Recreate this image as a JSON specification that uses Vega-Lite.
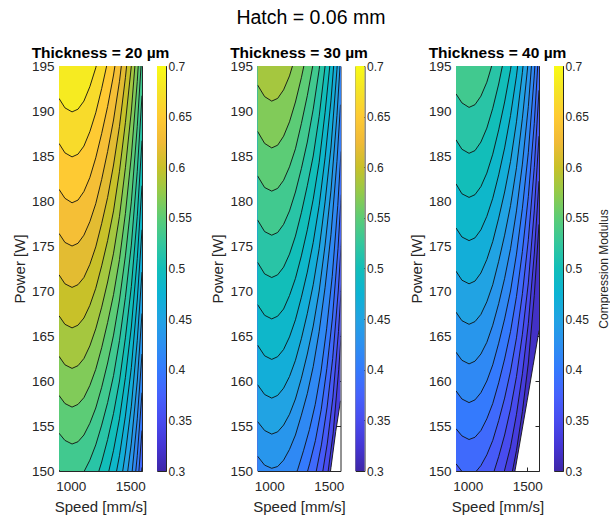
{
  "$schema": "https://vega.github.io/schema/vega-lite/v6.json",
  "padding": {"left": 11, "top": 8, "right": 0, "bottom": 0},
  "title": {"text": "Hatch = 0.06 mm", "fontSize": 19.5, "fontWeight": "normal", "color": "#000000", "anchor": "middle", "offset": 16.5},
  "config": {
    "font": "Liberation Sans",
    "view": {"stroke": "#262626", "strokeWidth": 1},
    "axis": {"grid": false, "domain": false, "zindex": 1, "labelFontSize": 13.5, "titleFontSize": 15, "labelColor": "#262626", "titleColor": "#262626", "titleFontWeight": "normal", "tickColor": "#262626", "tickSize": -4, "labelPadding": 6, "labelFlush": false},
    "axisX": {"labelPadding": 12, "titlePadding": 7},
    "axisY": {"labelPadding": 9},
    "title": {"font": "Liberation Sans"}
  },
  "datasets": {
    "t20": [
      {"c":0.3667,"v":900,"p":109.0},{"c":0.3667,"v":1600,"p":146.3},
      {"c":0.3833,"v":900,"p":113.4},{"c":0.3833,"v":1510,"p":136.8},{"c":0.3833,"v":1560,"p":143.5},{"c":0.3833,"v":1600,"p":150.4},
      {"c":0.4,"v":900,"p":117.5},{"c":0.4,"v":1510,"p":140.9},{"c":0.4,"v":1560,"p":147.6},{"c":0.4,"v":1600,"p":154.5},
      {"c":0.4167,"v":900,"p":121.6},{"c":0.4167,"v":1510,"p":144.9},{"c":0.4167,"v":1560,"p":151.7},{"c":0.4167,"v":1600,"p":158.7},
      {"c":0.4333,"v":900,"p":125.6},{"c":0.4333,"v":1460,"p":143.9},{"c":0.4333,"v":1510,"p":149.0},{"c":0.4333,"v":1560,"p":155.8},{"c":0.4333,"v":1600,"p":163.0},
      {"c":0.45,"v":900,"p":129.7},{"c":0.45,"v":1410,"p":143.5},{"c":0.45,"v":1460,"p":148.0},{"c":0.45,"v":1510,"p":153.1},{"c":0.45,"v":1560,"p":160.0},{"c":0.45,"v":1600,"p":167.5},
      {"c":0.4667,"v":900,"p":133.8},{"c":0.4667,"v":1410,"p":147.6},{"c":0.4667,"v":1460,"p":152.0},{"c":0.4667,"v":1510,"p":157.2},{"c":0.4667,"v":1560,"p":164.5},{"c":0.4667,"v":1600,"p":172.1},
      {"c":0.4833,"v":900,"p":137.9},{"c":0.4833,"v":1310,"p":145.3},{"c":0.4833,"v":1360,"p":148.2},{"c":0.4833,"v":1410,"p":151.7},{"c":0.4833,"v":1460,"p":156.1},{"c":0.4833,"v":1510,"p":161.5},{"c":0.4833,"v":1560,"p":169.0},{"c":0.4833,"v":1600,"p":176.8},
      {"c":0.5,"v":900,"p":142.0},{"c":0.5,"v":1260,"p":146.9},{"c":0.5,"v":1310,"p":149.4},{"c":0.5,"v":1360,"p":152.3},{"c":0.5,"v":1410,"p":155.8},{"c":0.5,"v":1460,"p":160.4},{"c":0.5,"v":1510,"p":166.0},{"c":0.5,"v":1560,"p":173.6},{"c":0.5,"v":1600,"p":181.7},
      {"c":0.5167,"v":900,"p":146.1},{"c":0.5167,"v":1210,"p":148.9},{"c":0.5167,"v":1260,"p":151.0},{"c":0.5167,"v":1310,"p":153.5},{"c":0.5167,"v":1360,"p":156.4},{"c":0.5167,"v":1410,"p":160.0},{"c":0.5167,"v":1460,"p":164.8},{"c":0.5167,"v":1510,"p":170.5},{"c":0.5167,"v":1560,"p":178.3},{"c":0.5167,"v":1600,"p":186.7},
      {"c":0.5333,"v":900,"p":150.1},{"c":0.5333,"v":950,"p":149.3},{"c":0.5333,"v":1010,"p":148.9},{"c":0.5333,"v":1060,"p":149.2},{"c":0.5333,"v":1110,"p":149.9},{"c":0.5333,"v":1160,"p":151.2},{"c":0.5333,"v":1210,"p":152.9},{"c":0.5333,"v":1260,"p":155.1},{"c":0.5333,"v":1310,"p":157.6},{"c":0.5333,"v":1360,"p":160.6},{"c":0.5333,"v":1410,"p":164.5},{"c":0.5333,"v":1460,"p":169.3},{"c":0.5333,"v":1510,"p":175.1},{"c":0.5333,"v":1560,"p":183.3},{"c":0.5333,"v":1600,"p":191.7},
      {"c":0.55,"v":900,"p":154.2},{"c":0.55,"v":950,"p":153.4},{"c":0.55,"v":1010,"p":153.0},{"c":0.55,"v":1060,"p":153.25},{"c":0.55,"v":1110,"p":154.0},{"c":0.55,"v":1160,"p":155.3},{"c":0.55,"v":1210,"p":157.0},{"c":0.55,"v":1260,"p":159.3},{"c":0.55,"v":1310,"p":162.0},{"c":0.55,"v":1360,"p":165.1},{"c":0.55,"v":1410,"p":169.0},{"c":0.55,"v":1460,"p":173.9},{"c":0.55,"v":1510,"p":179.9},{"c":0.55,"v":1560,"p":188.3},{"c":0.55,"v":1600,"p":196.7},
      {"c":0.5667,"v":900,"p":158.4},{"c":0.5667,"v":950,"p":157.5},{"c":0.5667,"v":1010,"p":157.1},{"c":0.5667,"v":1060,"p":157.4},{"c":0.5667,"v":1110,"p":158.15},{"c":0.5667,"v":1160,"p":159.5},{"c":0.5667,"v":1210,"p":161.3},{"c":0.5667,"v":1260,"p":163.7},{"c":0.5667,"v":1310,"p":166.5},{"c":0.5667,"v":1360,"p":169.6},{"c":0.5667,"v":1410,"p":173.5},{"c":0.5667,"v":1460,"p":178.6},{"c":0.5667,"v":1510,"p":185.0},{"c":0.5667,"v":1560,"p":193.3},{"c":0.5667,"v":1600,"p":201.7},
      {"c":0.5833,"v":900,"p":162.75},{"c":0.5833,"v":950,"p":161.8},{"c":0.5833,"v":1010,"p":161.4},{"c":0.5833,"v":1060,"p":161.7},{"c":0.5833,"v":1110,"p":162.5},{"c":0.5833,"v":1160,"p":163.9},{"c":0.5833,"v":1210,"p":165.8},{"c":0.5833,"v":1260,"p":168.2},{"c":0.5833,"v":1310,"p":171.0},{"c":0.5833,"v":1360,"p":174.2},{"c":0.5833,"v":1410,"p":178.3},{"c":0.5833,"v":1460,"p":183.7},{"c":0.5833,"v":1510,"p":190.0},{"c":0.5833,"v":1560,"p":198.3},
      {"c":0.6,"v":900,"p":167.25},{"c":0.6,"v":950,"p":166.3},{"c":0.6,"v":1010,"p":165.9},{"c":0.6,"v":1060,"p":166.2},{"c":0.6,"v":1110,"p":167.0},{"c":0.6,"v":1160,"p":168.4},{"c":0.6,"v":1210,"p":170.3},{"c":0.6,"v":1260,"p":172.8},{"c":0.6,"v":1310,"p":175.6},{"c":0.6,"v":1360,"p":178.9},{"c":0.6,"v":1410,"p":183.3},{"c":0.6,"v":1460,"p":188.7},{"c":0.6,"v":1510,"p":195.0},{"c":0.6,"v":1560,"p":203.3},
      {"c":0.6167,"v":900,"p":171.8},{"c":0.6167,"v":950,"p":170.8},{"c":0.6167,"v":1010,"p":170.4},{"c":0.6167,"v":1060,"p":170.7},{"c":0.6167,"v":1110,"p":171.5},{"c":0.6167,"v":1160,"p":172.95},{"c":0.6167,"v":1210,"p":174.9},{"c":0.6167,"v":1260,"p":177.5},{"c":0.6167,"v":1310,"p":180.4},{"c":0.6167,"v":1360,"p":184.0},{"c":0.6167,"v":1410,"p":188.3},{"c":0.6167,"v":1460,"p":193.7},{"c":0.6167,"v":1510,"p":200.0},
      {"c":0.6333,"v":900,"p":176.4},{"c":0.6333,"v":950,"p":175.4},{"c":0.6333,"v":1010,"p":175.0},{"c":0.6333,"v":1060,"p":175.3},{"c":0.6333,"v":1110,"p":176.2},{"c":0.6333,"v":1160,"p":177.7},{"c":0.6333,"v":1210,"p":179.7},{"c":0.6333,"v":1260,"p":182.4},{"c":0.6333,"v":1310,"p":185.5},{"c":0.6333,"v":1360,"p":189.0},{"c":0.6333,"v":1410,"p":193.3},{"c":0.6333,"v":1460,"p":198.7},
      {"c":0.65,"v":900,"p":181.3},{"c":0.65,"v":950,"p":180.3},{"c":0.65,"v":1010,"p":179.8},{"c":0.65,"v":1060,"p":180.1},{"c":0.65,"v":1110,"p":181.05},{"c":0.65,"v":1160,"p":182.6},{"c":0.65,"v":1210,"p":184.8},{"c":0.65,"v":1260,"p":187.5},{"c":0.65,"v":1310,"p":190.5},{"c":0.65,"v":1360,"p":194.0},{"c":0.65,"v":1410,"p":198.3},
      {"c":0.6667,"v":900,"p":186.4},{"c":0.6667,"v":950,"p":185.35},{"c":0.6667,"v":1010,"p":184.9},{"c":0.6667,"v":1060,"p":185.2},{"c":0.6667,"v":1110,"p":186.1},{"c":0.6667,"v":1160,"p":187.7},{"c":0.6667,"v":1210,"p":189.8},{"c":0.6667,"v":1260,"p":192.5},{"c":0.6667,"v":1310,"p":195.5},
      {"c":0.6833,"v":900,"p":191.4},{"c":0.6833,"v":950,"p":190.35},{"c":0.6833,"v":1010,"p":189.9},{"c":0.6833,"v":1060,"p":190.2},{"c":0.6833,"v":1110,"p":191.1},{"c":0.6833,"v":1160,"p":192.7},{"c":0.6833,"v":1210,"p":194.8},{"c":0.6833,"v":1260,"p":197.5}
    ],
    "t30": [
      {"c":0.3333,"v":900,"p":128.9},{"c":0.3333,"v":1470,"p":145.6},{"c":0.3333,"v":1520,"p":150.4},{"c":0.3333,"v":1560,"p":154.4},{"c":0.3333,"v":1600,"p":157.8},
      {"c":0.35,"v":900,"p":132.7},{"c":0.35,"v":1442,"p":145.3},{"c":0.35,"v":1490,"p":149.4},{"c":0.35,"v":1538,"p":154.2},{"c":0.35,"v":1585,"p":161.3},{"c":0.35,"v":1612.7,"p":166.5},
      {"c":0.3667,"v":900,"p":136.5},{"c":0.3667,"v":1392,"p":145.8},{"c":0.3667,"v":1440,"p":149.1},{"c":0.3667,"v":1489,"p":153.1},{"c":0.3667,"v":1536,"p":158.2},{"c":0.3667,"v":1583,"p":165.5},{"c":0.3667,"v":1610.6,"p":171.2},
      {"c":0.3833,"v":900,"p":140.25},{"c":0.3833,"v":1341,"p":146.9},{"c":0.3833,"v":1390,"p":149.6},{"c":0.3833,"v":1439,"p":152.9},{"c":0.3833,"v":1487,"p":157.1},{"c":0.3833,"v":1534,"p":162.5},{"c":0.3833,"v":1581,"p":170.0},{"c":0.3833,"v":1608.5,"p":175.8},
      {"c":0.4,"v":900,"p":144.05},{"c":0.4,"v":1290.7,"p":148.5},{"c":0.4,"v":1339.6,"p":150.8},{"c":0.4,"v":1388.5,"p":153.4},{"c":0.4,"v":1437,"p":156.8},{"c":0.4,"v":1485,"p":161.4},{"c":0.4,"v":1532,"p":167.0},{"c":0.4,"v":1579,"p":174.7},{"c":0.4,"v":1606,"p":180.7},
      {"c":0.4167,"v":900,"p":147.85},{"c":0.4167,"v":1190.6,"p":148.6},{"c":0.4167,"v":1240,"p":150.2},{"c":0.4167,"v":1289,"p":152.3},{"c":0.4167,"v":1338,"p":154.6},{"c":0.4167,"v":1387,"p":157.4},{"c":0.4167,"v":1435,"p":161.0},{"c":0.4167,"v":1483,"p":165.8},{"c":0.4167,"v":1530,"p":171.6},{"c":0.4167,"v":1577,"p":179.5},{"c":0.4167,"v":1604.2,"p":185.5},
      {"c":0.4333,"v":900,"p":151.65},{"c":0.4333,"v":960,"p":150.65},{"c":0.4333,"v":1020,"p":150.3},{"c":0.4333,"v":1070,"p":150.5},{"c":0.4333,"v":1120,"p":151.2},{"c":0.4333,"v":1170,"p":152.4},{"c":0.4333,"v":1220,"p":154.0},{"c":0.4333,"v":1270,"p":156.2},{"c":0.4333,"v":1320,"p":158.6},{"c":0.4333,"v":1370,"p":161.6},{"c":0.4333,"v":1420,"p":165.5},{"c":0.4333,"v":1470,"p":170.4},{"c":0.4333,"v":1520,"p":176.3},{"c":0.4333,"v":1570,"p":184.4},{"c":0.4333,"v":1600,"p":190.7},
      {"c":0.45,"v":900,"p":155.5},{"c":0.45,"v":960,"p":154.5},{"c":0.45,"v":1020,"p":154.1},{"c":0.45,"v":1070,"p":154.35},{"c":0.45,"v":1120,"p":155.1},{"c":0.45,"v":1170,"p":156.3},{"c":0.45,"v":1220,"p":158.0},{"c":0.45,"v":1270,"p":160.3},{"c":0.45,"v":1320,"p":163.0},{"c":0.45,"v":1370,"p":166.1},{"c":0.45,"v":1420,"p":170.0},{"c":0.45,"v":1470,"p":175.1},{"c":0.45,"v":1520,"p":181.2},{"c":0.45,"v":1570,"p":189.5},{"c":0.45,"v":1600,"p":195.8},
      {"c":0.4667,"v":900,"p":159.6},{"c":0.4667,"v":960,"p":158.5},{"c":0.4667,"v":1020,"p":158.1},{"c":0.4667,"v":1070,"p":158.4},{"c":0.4667,"v":1120,"p":159.2},{"c":0.4667,"v":1170,"p":160.5},{"c":0.4667,"v":1220,"p":162.3},{"c":0.4667,"v":1270,"p":164.7},{"c":0.4667,"v":1320,"p":167.5},{"c":0.4667,"v":1370,"p":170.7},{"c":0.4667,"v":1420,"p":174.7},{"c":0.4667,"v":1470,"p":179.9},{"c":0.4667,"v":1520,"p":186.0},{"c":0.4667,"v":1570,"p":194.6},{"c":0.4667,"v":1600,"p":200.9},
      {"c":0.4833,"v":900,"p":164.0},{"c":0.4833,"v":960,"p":162.8},{"c":0.4833,"v":1020,"p":162.4},{"c":0.4833,"v":1070,"p":162.7},{"c":0.4833,"v":1120,"p":163.5},{"c":0.4833,"v":1170,"p":164.9},{"c":0.4833,"v":1220,"p":166.8},{"c":0.4833,"v":1270,"p":169.3},{"c":0.4833,"v":1320,"p":172.1},{"c":0.4833,"v":1370,"p":175.4},{"c":0.4833,"v":1420,"p":179.5},{"c":0.4833,"v":1470,"p":184.8},{"c":0.4833,"v":1520,"p":191.2},{"c":0.4833,"v":1570,"p":199.7},
      {"c":0.5,"v":900,"p":168.5},{"c":0.5,"v":960,"p":167.3},{"c":0.5,"v":1020,"p":166.9},{"c":0.5,"v":1070,"p":167.2},{"c":0.5,"v":1120,"p":168.0},{"c":0.5,"v":1170,"p":169.5},{"c":0.5,"v":1220,"p":171.4},{"c":0.5,"v":1270,"p":173.9},{"c":0.5,"v":1320,"p":176.8},{"c":0.5,"v":1370,"p":180.2},{"c":0.5,"v":1420,"p":184.3},{"c":0.5,"v":1470,"p":189.85},{"c":0.5,"v":1520,"p":196.3},
      {"c":0.5167,"v":900,"p":173.2},{"c":0.5167,"v":960,"p":171.9},{"c":0.5167,"v":1020,"p":171.5},{"c":0.5167,"v":1070,"p":171.8},{"c":0.5167,"v":1120,"p":172.65},{"c":0.5167,"v":1170,"p":174.1},{"c":0.5167,"v":1220,"p":176.1},{"c":0.5167,"v":1270,"p":178.7},{"c":0.5167,"v":1320,"p":181.7},{"c":0.5167,"v":1370,"p":185.0},{"c":0.5167,"v":1420,"p":189.4},{"c":0.5167,"v":1470,"p":195.0},{"c":0.5167,"v":1520,"p":201.4},
      {"c":0.5333,"v":900,"p":177.9},{"c":0.5333,"v":960,"p":176.6},{"c":0.5333,"v":1020,"p":176.2},{"c":0.5333,"v":1070,"p":176.5},{"c":0.5333,"v":1120,"p":177.4},{"c":0.5333,"v":1170,"p":178.9},{"c":0.5333,"v":1220,"p":181.0},{"c":0.5333,"v":1270,"p":183.6},{"c":0.5333,"v":1320,"p":186.55},{"c":0.5333,"v":1370,"p":190.2},{"c":0.5333,"v":1420,"p":194.6},{"c":0.5333,"v":1470,"p":200.1},
      {"c":0.55,"v":900,"p":182.8},{"c":0.55,"v":960,"p":181.5},{"c":0.55,"v":1020,"p":181.1},{"c":0.55,"v":1070,"p":181.4},{"c":0.55,"v":1120,"p":182.3},{"c":0.55,"v":1170,"p":183.8},{"c":0.55,"v":1220,"p":185.8},{"c":0.55,"v":1270,"p":188.6},{"c":0.55,"v":1320,"p":191.7},{"c":0.55,"v":1370,"p":195.3},
      {"c":0.5667,"v":900,"p":187.75},{"c":0.5667,"v":960,"p":186.4},{"c":0.5667,"v":1020,"p":185.9},{"c":0.5667,"v":1070,"p":186.2},{"c":0.5667,"v":1120,"p":187.2},{"c":0.5667,"v":1170,"p":188.8},{"c":0.5667,"v":1220,"p":191.0},{"c":0.5667,"v":1270,"p":193.7},{"c":0.5667,"v":1320,"p":196.8},
      {"c":0.5833,"v":900,"p":192.9},{"c":0.5833,"v":960,"p":191.6},{"c":0.5833,"v":1020,"p":191.1},{"c":0.5833,"v":1070,"p":191.4},{"c":0.5833,"v":1120,"p":192.35},{"c":0.5833,"v":1170,"p":193.9},{"c":0.5833,"v":1220,"p":196.1}
    ],
    "t40": [
      {"c":0.3167,"v":900,"p":135.5},{"c":0.3167,"v":1350,"p":146.6},{"c":0.3167,"v":1400,"p":150.2},{"c":0.3167,"v":1450,"p":154.0},{"c":0.3167,"v":1500,"p":157.8},{"c":0.3167,"v":1550,"p":161.7},{"c":0.3167,"v":1600,"p":165.6},
      {"c":0.3333,"v":900,"p":139.3},{"c":0.3333,"v":1310,"p":146.3},{"c":0.3333,"v":1360,"p":148.9},{"c":0.3333,"v":1410,"p":152.3},{"c":0.3333,"v":1460,"p":156.6},{"c":0.3333,"v":1510,"p":162.0},{"c":0.3333,"v":1560,"p":169.5},{"c":0.3333,"v":1600,"p":177.4},
      {"c":0.35,"v":900,"p":143.1},{"c":0.35,"v":1260,"p":147.8},{"c":0.35,"v":1310,"p":150.1},{"c":0.35,"v":1360,"p":152.7},{"c":0.35,"v":1410,"p":156.3},{"c":0.35,"v":1460,"p":160.8},{"c":0.35,"v":1510,"p":166.4},{"c":0.35,"v":1560,"p":174.1},{"c":0.35,"v":1600,"p":182.2},
      {"c":0.3667,"v":900,"p":146.9},{"c":0.3667,"v":1160,"p":147.9},{"c":0.3667,"v":1210,"p":149.5},{"c":0.3667,"v":1260,"p":151.6},{"c":0.3667,"v":1310,"p":154.0},{"c":0.3667,"v":1360,"p":156.9},{"c":0.3667,"v":1410,"p":160.5},{"c":0.3667,"v":1460,"p":165.2},{"c":0.3667,"v":1510,"p":170.9},{"c":0.3667,"v":1560,"p":178.9},{"c":0.3667,"v":1600,"p":187.2},
      {"c":0.3833,"v":900,"p":150.8},{"c":0.3833,"v":950,"p":149.95},{"c":0.3833,"v":1010,"p":149.6},{"c":0.3833,"v":1060,"p":149.8},{"c":0.3833,"v":1110,"p":150.6},{"c":0.3833,"v":1160,"p":151.8},{"c":0.3833,"v":1210,"p":153.4},{"c":0.3833,"v":1260,"p":155.6},{"c":0.3833,"v":1310,"p":158.1},{"c":0.3833,"v":1360,"p":161.1},{"c":0.3833,"v":1410,"p":164.8},{"c":0.3833,"v":1460,"p":169.7},{"c":0.3833,"v":1510,"p":175.7},{"c":0.3833,"v":1560,"p":183.7},{"c":0.3833,"v":1600,"p":192.3},
      {"c":0.4,"v":900,"p":154.7},{"c":0.4,"v":950,"p":153.9},{"c":0.4,"v":1010,"p":153.5},{"c":0.4,"v":1060,"p":153.75},{"c":0.4,"v":1110,"p":154.5},{"c":0.4,"v":1160,"p":155.8},{"c":0.4,"v":1210,"p":157.5},{"c":0.4,"v":1260,"p":159.8},{"c":0.4,"v":1310,"p":162.45},{"c":0.4,"v":1360,"p":165.5},{"c":0.4,"v":1410,"p":169.4},{"c":0.4,"v":1460,"p":174.4},{"c":0.4,"v":1510,"p":180.5},{"c":0.4,"v":1560,"p":188.6},{"c":0.4,"v":1600,"p":197.4},
      {"c":0.4167,"v":900,"p":158.9},{"c":0.4167,"v":950,"p":158.0},{"c":0.4167,"v":1010,"p":157.6},{"c":0.4167,"v":1060,"p":157.9},{"c":0.4167,"v":1110,"p":158.7},{"c":0.4167,"v":1160,"p":160.0},{"c":0.4167,"v":1210,"p":161.8},{"c":0.4167,"v":1260,"p":164.2},{"c":0.4167,"v":1310,"p":166.9},{"c":0.4167,"v":1360,"p":170.0},{"c":0.4167,"v":1410,"p":174.1},{"c":0.4167,"v":1460,"p":179.2},{"c":0.4167,"v":1510,"p":185.4},{"c":0.4167,"v":1560,"p":193.9},{"c":0.4167,"v":1600,"p":202.5},
      {"c":0.4333,"v":900,"p":163.2},{"c":0.4333,"v":950,"p":162.3},{"c":0.4333,"v":1010,"p":161.9},{"c":0.4333,"v":1060,"p":162.2},{"c":0.4333,"v":1110,"p":163.0},{"c":0.4333,"v":1160,"p":164.3},{"c":0.4333,"v":1210,"p":166.2},{"c":0.4333,"v":1260,"p":168.6},{"c":0.4333,"v":1310,"p":171.4},{"c":0.4333,"v":1360,"p":174.7},{"c":0.4333,"v":1410,"p":178.9},{"c":0.4333,"v":1460,"p":184.1},{"c":0.4333,"v":1510,"p":190.5},{"c":0.4333,"v":1560,"p":199.0},
      {"c":0.45,"v":900,"p":167.65},{"c":0.45,"v":950,"p":166.7},{"c":0.45,"v":1010,"p":166.3},{"c":0.45,"v":1060,"p":166.6},{"c":0.45,"v":1110,"p":167.4},{"c":0.45,"v":1160,"p":168.8},{"c":0.45,"v":1210,"p":170.7},{"c":0.45,"v":1260,"p":173.3},{"c":0.45,"v":1310,"p":176.2},{"c":0.45,"v":1360,"p":179.5},{"c":0.45,"v":1410,"p":183.7},{"c":0.45,"v":1460,"p":189.2},{"c":0.45,"v":1510,"p":195.6},
      {"c":0.4667,"v":900,"p":172.2},{"c":0.4667,"v":950,"p":171.2},{"c":0.4667,"v":1010,"p":170.8},{"c":0.4667,"v":1060,"p":171.1},{"c":0.4667,"v":1110,"p":172.0},{"c":0.4667,"v":1160,"p":173.5},{"c":0.4667,"v":1210,"p":175.5},{"c":0.4667,"v":1260,"p":178.1},{"c":0.4667,"v":1310,"p":181.0},{"c":0.4667,"v":1360,"p":184.4},{"c":0.4667,"v":1410,"p":188.8},{"c":0.4667,"v":1460,"p":194.3},{"c":0.4667,"v":1510,"p":200.7},
      {"c":0.4833,"v":900,"p":177.0},{"c":0.4833,"v":950,"p":176.0},{"c":0.4833,"v":1010,"p":175.6},{"c":0.4833,"v":1060,"p":175.9},{"c":0.4833,"v":1110,"p":176.8},{"c":0.4833,"v":1160,"p":178.3},{"c":0.4833,"v":1210,"p":180.3},{"c":0.4833,"v":1260,"p":182.9},{"c":0.4833,"v":1310,"p":185.9},{"c":0.4833,"v":1360,"p":189.5},{"c":0.4833,"v":1410,"p":193.9},{"c":0.4833,"v":1460,"p":199.4},
      {"c":0.5,"v":900,"p":181.9},{"c":0.5,"v":950,"p":180.8},{"c":0.5,"v":1010,"p":180.4},{"c":0.5,"v":1060,"p":180.7},{"c":0.5,"v":1110,"p":181.6},{"c":0.5,"v":1160,"p":183.1},{"c":0.5,"v":1210,"p":185.2},{"c":0.5,"v":1260,"p":187.9},{"c":0.5,"v":1310,"p":191.0},{"c":0.5,"v":1360,"p":194.6},{"c":0.5,"v":1410,"p":199.0},
      {"c":0.5167,"v":900,"p":186.8},{"c":0.5167,"v":950,"p":185.75},{"c":0.5167,"v":1010,"p":185.3},{"c":0.5167,"v":1060,"p":185.6},{"c":0.5167,"v":1110,"p":186.55},{"c":0.5167,"v":1160,"p":188.1},{"c":0.5167,"v":1210,"p":190.3},{"c":0.5167,"v":1260,"p":193.0},{"c":0.5167,"v":1310,"p":196.2},
      {"c":0.5333,"v":900,"p":191.9},{"c":0.5333,"v":950,"p":190.9},{"c":0.5333,"v":1010,"p":190.4},{"c":0.5333,"v":1060,"p":190.7},{"c":0.5333,"v":1110,"p":191.65},{"c":0.5333,"v":1160,"p":193.2},{"c":0.5333,"v":1210,"p":195.4}
    ],
    "bar": [{"lo": 0.3, "hi": 0.7}]
  },
  "spacing": 17.5,
  "resolve": {"scale": {"x": "independent", "y": "independent"}},
  "hconcat": [
    {
      "spacing": 15,
      "bounds": "flush",
      "resolve": {"scale": {"x": "independent", "y": "independent"}},
      "hconcat": [
        {
          "width": 83, "height": 405,
          "title": {"text": "Thickness = 20 µm", "fontSize": 15.5, "fontWeight": "bold", "color": "#000000", "anchor": "middle", "frame": "group", "offset": -2},
          "data": {"name": "t20"},
          "resolve": {"axis": {"x": "independent", "y": "independent"}},
          "layer": [
            {"mark": {"type": "area", "clip": true},
             "encoding": {
               "x": {"field": "v", "type": "quantitative", "scale": {"domain": [900, 1600], "nice": false, "zero": false}, "axis": {"title": "Speed [mm/s]", "values": [1000, 1500], "format": "d"}},
               "y": {"field": "p", "type": "quantitative", "stack": null, "scale": {"domain": [150, 195], "nice": false, "zero": false}, "axis": {"title": "Power [W]", "values": [150, 155, 160, 165, 170, 175, 180, 185, 190, 195]}},
               "y2": {"datum": 195},
               "color": {"field": "c", "type": "quantitative", "legend": null, "scale": {"type": "linear", "interpolate": "rgb", "domain": [0.3, 0.325, 0.35, 0.375, 0.4, 0.425, 0.45, 0.475, 0.5, 0.525, 0.55, 0.575, 0.6, 0.625, 0.65, 0.675, 0.7], "range": ["#3E26A8", "#4536D5", "#484CEF", "#4562FC", "#347AFD", "#2C90F0", "#21A3E3", "#0CB3D3", "#12BEB9", "#34C79C", "#5CCC76", "#94CA4A", "#C8C129", "#F1BA37", "#FECA33", "#F5E327", "#F9FB15"]}},
               "detail": {"field": "c", "type": "nominal"}}},
            {"mark": {"type": "line", "clip": true, "color": "#111111", "strokeWidth": 0.9},
             "encoding": {
               "x": {"field": "v", "type": "quantitative", "axis": {"orient": "top", "title": null, "labels": false, "values": [1000, 1500]}},
               "y": {"field": "p", "type": "quantitative", "axis": {"orient": "right", "title": null, "labels": false, "values": [150, 155, 160, 165, 170, 175, 180, 185, 190, 195]}},
               "detail": {"field": "c", "type": "nominal"}}}
          ]
        },
        {
          "width": 9, "height": 405,
          "data": {"name": "bar"},
          "mark": {"type": "rect", "color": {"gradient": "linear", "x1": 0, "y1": 1, "x2": 0, "y2": 0, "stops": [{"offset": 0, "color": "#3E26A8"}, {"offset": 0.0625, "color": "#4536D5"}, {"offset": 0.125, "color": "#484CEF"}, {"offset": 0.1875, "color": "#4562FC"}, {"offset": 0.25, "color": "#347AFD"}, {"offset": 0.3125, "color": "#2C90F0"}, {"offset": 0.375, "color": "#21A3E3"}, {"offset": 0.4375, "color": "#0CB3D3"}, {"offset": 0.5, "color": "#12BEB9"}, {"offset": 0.5625, "color": "#34C79C"}, {"offset": 0.625, "color": "#5CCC76"}, {"offset": 0.6875, "color": "#94CA4A"}, {"offset": 0.75, "color": "#C8C129"}, {"offset": 0.8125, "color": "#F1BA37"}, {"offset": 0.875, "color": "#FECA33"}, {"offset": 0.9375, "color": "#F5E327"}, {"offset": 1, "color": "#F9FB15"}]}},
          "encoding": {
            "y": {"field": "lo", "type": "quantitative", "scale": {"domain": [0.3, 0.7], "nice": false, "zero": false}, "axis": {"orient": "right", "title": null, "values": [0.3, 0.35, 0.4, 0.45, 0.5, 0.55, 0.6, 0.65, 0.7], "format": ".2~f", "labelFontSize": 12, "labelPadding": 5, "tickSize": -3}},
            "y2": {"field": "hi"}
          }
        }
      ]
    },
    {
      "spacing": 15,
      "bounds": "flush",
      "resolve": {"scale": {"x": "independent", "y": "independent"}},
      "hconcat": [
        {
          "width": 83, "height": 405,
          "title": {"text": "Thickness = 30 µm", "fontSize": 15.5, "fontWeight": "bold", "color": "#000000", "anchor": "middle", "frame": "group", "offset": -2},
          "data": {"name": "t30"},
          "resolve": {"axis": {"x": "independent", "y": "independent"}},
          "layer": [
            {"mark": {"type": "area", "clip": true},
             "encoding": {
               "x": {"field": "v", "type": "quantitative", "scale": {"domain": [900, 1600], "nice": false, "zero": false}, "axis": {"title": "Speed [mm/s]", "values": [1000, 1500], "format": "d"}},
               "y": {"field": "p", "type": "quantitative", "stack": null, "scale": {"domain": [150, 195], "nice": false, "zero": false}, "axis": {"title": "Power [W]", "values": [150, 155, 160, 165, 170, 175, 180, 185, 190, 195]}},
               "y2": {"datum": 195},
               "color": {"field": "c", "type": "quantitative", "legend": null, "scale": {"type": "linear", "interpolate": "rgb", "domain": [0.3, 0.325, 0.35, 0.375, 0.4, 0.425, 0.45, 0.475, 0.5, 0.525, 0.55, 0.575, 0.6, 0.625, 0.65, 0.675, 0.7], "range": ["#3E26A8", "#4536D5", "#484CEF", "#4562FC", "#347AFD", "#2C90F0", "#21A3E3", "#0CB3D3", "#12BEB9", "#34C79C", "#5CCC76", "#94CA4A", "#C8C129", "#F1BA37", "#FECA33", "#F5E327", "#F9FB15"]}},
               "detail": {"field": "c", "type": "nominal"}}},
            {"mark": {"type": "line", "clip": true, "color": "#111111", "strokeWidth": 0.9},
             "encoding": {
               "x": {"field": "v", "type": "quantitative", "axis": {"orient": "top", "title": null, "labels": false, "values": [1000, 1500]}},
               "y": {"field": "p", "type": "quantitative", "axis": {"orient": "right", "title": null, "labels": false, "values": [150, 155, 160, 165, 170, 175, 180, 185, 190, 195]}},
               "detail": {"field": "c", "type": "nominal"}}}
          ]
        },
        {
          "width": 9, "height": 405,
          "data": {"name": "bar"},
          "mark": {"type": "rect", "color": {"gradient": "linear", "x1": 0, "y1": 1, "x2": 0, "y2": 0, "stops": [{"offset": 0, "color": "#3E26A8"}, {"offset": 0.0625, "color": "#4536D5"}, {"offset": 0.125, "color": "#484CEF"}, {"offset": 0.1875, "color": "#4562FC"}, {"offset": 0.25, "color": "#347AFD"}, {"offset": 0.3125, "color": "#2C90F0"}, {"offset": 0.375, "color": "#21A3E3"}, {"offset": 0.4375, "color": "#0CB3D3"}, {"offset": 0.5, "color": "#12BEB9"}, {"offset": 0.5625, "color": "#34C79C"}, {"offset": 0.625, "color": "#5CCC76"}, {"offset": 0.6875, "color": "#94CA4A"}, {"offset": 0.75, "color": "#C8C129"}, {"offset": 0.8125, "color": "#F1BA37"}, {"offset": 0.875, "color": "#FECA33"}, {"offset": 0.9375, "color": "#F5E327"}, {"offset": 1, "color": "#F9FB15"}]}},
          "encoding": {
            "y": {"field": "lo", "type": "quantitative", "scale": {"domain": [0.3, 0.7], "nice": false, "zero": false}, "axis": {"orient": "right", "title": null, "values": [0.3, 0.35, 0.4, 0.45, 0.5, 0.55, 0.6, 0.65, 0.7], "format": ".2~f", "labelFontSize": 12, "labelPadding": 5, "tickSize": -3}},
            "y2": {"field": "hi"}
          }
        }
      ]
    },
    {
      "spacing": 15,
      "bounds": "flush",
      "resolve": {"scale": {"x": "independent", "y": "independent"}},
      "hconcat": [
        {
          "width": 83, "height": 405,
          "title": {"text": "Thickness = 40 µm", "fontSize": 15.5, "fontWeight": "bold", "color": "#000000", "anchor": "middle", "frame": "group", "offset": -2},
          "data": {"name": "t40"},
          "resolve": {"axis": {"x": "independent", "y": "independent"}},
          "layer": [
            {"mark": {"type": "area", "clip": true},
             "encoding": {
               "x": {"field": "v", "type": "quantitative", "scale": {"domain": [900, 1600], "nice": false, "zero": false}, "axis": {"title": "Speed [mm/s]", "values": [1000, 1500], "format": "d"}},
               "y": {"field": "p", "type": "quantitative", "stack": null, "scale": {"domain": [150, 195], "nice": false, "zero": false}, "axis": {"title": "Power [W]", "values": [150, 155, 160, 165, 170, 175, 180, 185, 190, 195]}},
               "y2": {"datum": 195},
               "color": {"field": "c", "type": "quantitative", "legend": null, "scale": {"type": "linear", "interpolate": "rgb", "domain": [0.3, 0.325, 0.35, 0.375, 0.4, 0.425, 0.45, 0.475, 0.5, 0.525, 0.55, 0.575, 0.6, 0.625, 0.65, 0.675, 0.7], "range": ["#3E26A8", "#4536D5", "#484CEF", "#4562FC", "#347AFD", "#2C90F0", "#21A3E3", "#0CB3D3", "#12BEB9", "#34C79C", "#5CCC76", "#94CA4A", "#C8C129", "#F1BA37", "#FECA33", "#F5E327", "#F9FB15"]}},
               "detail": {"field": "c", "type": "nominal"}}},
            {"mark": {"type": "line", "clip": true, "color": "#111111", "strokeWidth": 0.9},
             "encoding": {
               "x": {"field": "v", "type": "quantitative", "axis": {"orient": "top", "title": null, "labels": false, "values": [1000, 1500]}},
               "y": {"field": "p", "type": "quantitative", "axis": {"orient": "right", "title": null, "labels": false, "values": [150, 155, 160, 165, 170, 175, 180, 185, 190, 195]}},
               "detail": {"field": "c", "type": "nominal"}}}
          ]
        },
        {
          "width": 9, "height": 405,
          "data": {"name": "bar"},
          "mark": {"type": "rect", "color": {"gradient": "linear", "x1": 0, "y1": 1, "x2": 0, "y2": 0, "stops": [{"offset": 0, "color": "#3E26A8"}, {"offset": 0.0625, "color": "#4536D5"}, {"offset": 0.125, "color": "#484CEF"}, {"offset": 0.1875, "color": "#4562FC"}, {"offset": 0.25, "color": "#347AFD"}, {"offset": 0.3125, "color": "#2C90F0"}, {"offset": 0.375, "color": "#21A3E3"}, {"offset": 0.4375, "color": "#0CB3D3"}, {"offset": 0.5, "color": "#12BEB9"}, {"offset": 0.5625, "color": "#34C79C"}, {"offset": 0.625, "color": "#5CCC76"}, {"offset": 0.6875, "color": "#94CA4A"}, {"offset": 0.75, "color": "#C8C129"}, {"offset": 0.8125, "color": "#F1BA37"}, {"offset": 0.875, "color": "#FECA33"}, {"offset": 0.9375, "color": "#F5E327"}, {"offset": 1, "color": "#F9FB15"}]}},
          "encoding": {
            "y": {"field": "lo", "type": "quantitative", "scale": {"domain": [0.3, 0.7], "nice": false, "zero": false}, "axis": {"orient": "right", "title": "Compression Modulus", "titleFontSize": 12, "titleAngle": 270, "titleBaseline": "top", "titlePadding": 10, "values": [0.3, 0.35, 0.4, 0.45, 0.5, 0.55, 0.6, 0.65, 0.7], "format": ".2~f", "labelFontSize": 12, "labelPadding": 5, "tickSize": -3}},
            "y2": {"field": "hi"}
          }
        }
      ]
    }
  ]
}
